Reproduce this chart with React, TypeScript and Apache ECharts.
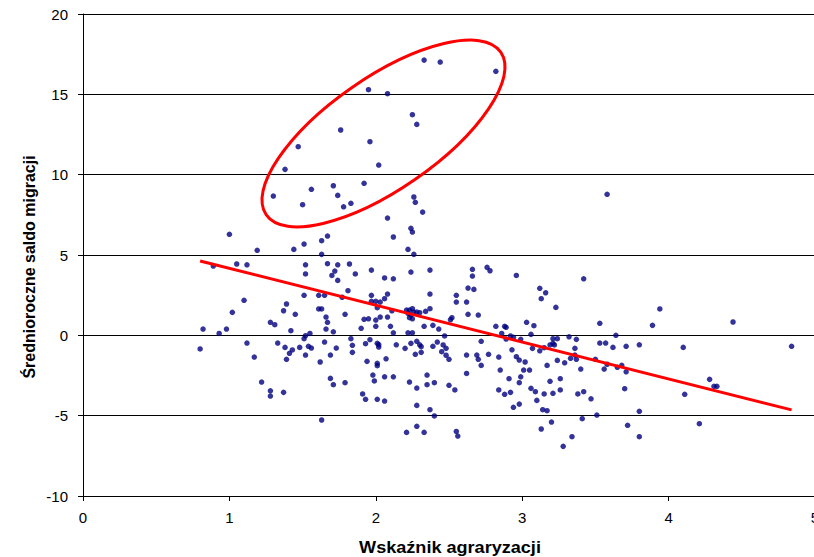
import React, { useEffect, useRef } from "react";
import * as echarts from "echarts";

// [Wskaźnik agraryzacji, Średnioroczne saldo migracji]
const punkty: [number, number][] = [
  [1.47, 11.74], [1.38, 10.33], [1.56, 9.09], [1.30, 8.67], [1.50, 8.13],
  [2.33, 17.13], [2.44, 17.01], [2.82, 16.43], [1.95, 15.29], [2.08, 15.04],
  [2.25, 13.73], [2.28, 13.13], [1.76, 12.78], [1.96, 12.05], [2.02, 10.60],
  [1.71, 9.31], [1.92, 9.46], [1.74, 8.71], [1.78, 8.00], [1.83, 8.22],
  [2.26, 8.61], [2.27, 8.28], [2.32, 7.67], [2.08, 7.30],
  [1.00, 6.29], [1.19, 5.29], [1.44, 5.35], [1.51, 5.68], [1.63, 5.89],
  [1.67, 6.18], [1.63, 5.04], [0.89, 4.31], [1.05, 4.44], [1.12, 4.39],
  [1.52, 4.39], [1.52, 3.82], [1.67, 4.46], [1.10, 2.18], [1.02, 1.43],
  [1.39, 1.95], [1.37, 1.53], [1.45, 1.31], [1.51, 2.49], [1.61, 2.49],
  [1.65, 2.49], [1.61, 1.64], [1.63, 1.64], [1.66, 1.14],
  [0.82, 0.39], [0.93, 0.12], [0.98, 0.39], [1.28, 0.81], [1.31, 0.66],
  [1.42, 0.29], [1.67, 0.81], [1.66, 0.39], [1.55, 0.12], [1.52, -0.02],
  [1.51, -0.21], [0.80, -0.85], [1.12, -0.48], [1.33, -0.48], [1.38, -0.75],
  [1.48, -0.75], [1.43, -0.91], [1.41, -1.12], [1.54, -0.68], [1.56, -0.79],
  [1.65, -0.42], [1.17, -1.35], [1.39, -1.49], [1.52, -1.23], [1.69, -1.23],
  [1.62, -1.66], [1.22, -2.91], [1.28, -3.45], [1.28, -3.78], [1.37, -3.55],
  [1.69, -2.68], [1.63, -5.27],
  [2.24, 6.66], [2.25, 6.43], [2.12, 6.12], [2.22, 5.35], [2.26, 5.04],
  [1.74, 4.39], [1.82, 4.44], [1.72, 4.00], [1.70, 3.73], [1.74, 3.42],
  [1.86, 3.82], [1.97, 4.06], [2.06, 3.57], [2.12, 3.52], [2.24, 3.94],
  [2.37, 4.06], [2.66, 4.11], [2.66, 3.69], [1.81, 2.78], [1.77, 2.37],
  [1.97, 2.49], [2.08, 2.57], [2.06, 2.28], [1.97, 2.12], [2.00, 2.12],
  [2.03, 2.07], [2.01, 1.72], [2.37, 2.57], [2.63, 2.94], [2.67, 2.86],
  [2.55, 2.49], [2.55, 2.07], [2.62, 2.07], [1.79, 1.31], [1.92, 1.00],
  [1.95, 1.03], [2.00, 0.95], [2.03, 1.14], [2.08, 1.14], [2.11, 1.53],
  [2.21, 1.57], [2.23, 1.57], [2.25, 1.66], [2.26, 1.45], [2.22, 1.37],
  [2.24, 1.26], [2.28, 1.45], [2.30, 1.41], [2.34, 1.49], [2.37, 1.66],
  [2.23, 1.10], [2.25, 1.03], [2.52, 1.10], [2.51, 0.97], [2.63, 1.31],
  [2.70, 1.26],
  [2.10, 0.56], [2.00, 0.56], [1.90, 0.44], [1.71, 0.22], [2.12, 0.16],
  [2.22, 0.16], [2.25, 0.16], [2.33, 0.56], [2.39, 0.62], [2.43, 0.39],
  [2.47, -0.04], [1.83, -0.21], [1.84, -0.62], [1.73, -0.79], [1.84, -1.06],
  [1.93, -0.52], [1.96, -0.27], [2.01, -0.50], [2.02, -0.58], [2.02, -0.73],
  [2.14, -0.59], [2.20, -0.81], [2.24, -0.50], [2.28, -0.37], [2.30, -0.59],
  [2.31, -0.71], [2.27, -1.18], [2.31, -1.06], [2.39, -0.68], [2.42, -0.42],
  [2.46, -0.60], [2.48, -0.81], [2.45, -1.02], [2.48, -1.24], [2.50, -1.49],
  [2.62, -1.23], [2.69, -1.23], [2.70, -1.49], [1.94, -1.62], [2.01, -1.74],
  [2.01, -1.89], [2.07, -1.46], [1.71, -3.07], [1.79, -2.95], [1.98, -2.47],
  [1.99, -2.84], [2.06, -2.58], [2.12, -2.58], [2.23, -2.91], [2.28, -3.28],
  [2.35, -2.47], [2.35, -3.07], [2.40, -2.95], [2.50, -3.11], [2.54, -3.40],
  [2.62, -2.37], [1.91, -3.65], [1.93, -3.98], [2.01, -3.98], [2.06, -4.09],
  [2.28, -4.36], [2.37, -4.63], [2.40, -5.02], [2.21, -6.04], [2.28, -5.66],
  [2.33, -6.04], [2.55, -5.98], [2.56, -6.27],
  [3.58, 8.78], [2.76, 4.23], [2.78, 4.02], [2.96, 3.73], [3.42, 3.52],
  [3.12, 2.93], [3.16, 2.65], [3.13, 2.28], [3.23, 1.74],
  [2.82, 0.56], [2.88, 0.56], [2.89, 0.50], [3.03, 0.81], [3.08, 0.60],
  [3.53, 0.75], [2.86, 0.12], [3.06, 0.06], [2.92, -0.04], [2.94, -0.12],
  [2.89, -0.23], [2.99, -0.25], [3.21, -0.21], [3.24, -0.21], [3.32, -0.09],
  [3.37, -0.25], [3.64, 0.00], [2.72, -0.37], [2.77, -1.18], [2.72, -1.87],
  [2.93, -0.90], [3.07, -0.81], [3.12, -0.96], [3.15, -0.77], [3.19, -0.60],
  [3.21, -0.50], [3.22, -0.60], [3.29, -1.71], [3.36, -0.81], [3.33, -1.43],
  [3.37, -1.49], [3.36, -1.23], [3.53, -0.48], [3.57, -0.48], [3.62, -0.75],
  [2.84, -1.35], [2.96, -1.33], [2.98, -1.54], [3.02, -1.66], [3.17, -1.87],
  [3.24, -1.56], [2.85, -2.16], [3.01, -2.16], [3.05, -2.16], [3.40, -2.10],
  [3.50, -1.49], [3.56, -2.10], [3.58, -1.80], [3.65, -1.99], [2.91, -2.70],
  [2.99, -2.58], [2.98, -2.95], [3.19, -2.86], [3.26, -2.70], [2.84, -3.40],
  [2.88, -3.67], [2.92, -3.55], [3.06, -3.30], [3.09, -3.51], [3.15, -3.65],
  [3.21, -3.61], [3.26, -3.40], [3.38, -3.65], [3.42, -3.51], [3.47, -3.95],
  [3.10, -4.05], [2.94, -4.48], [2.98, -4.28], [3.14, -4.63], [3.17, -4.69],
  [3.41, -5.19], [3.51, -4.96], [3.20, -5.40], [3.13, -5.83], [3.34, -6.31],
  [3.28, -6.91],
  [3.94, 1.64], [3.89, 0.62], [4.44, 0.83], [3.71, -0.68], [3.80, -0.59],
  [4.10, -0.75], [4.84, -0.68], [3.68, -1.87], [3.71, -2.27], [3.70, -3.32],
  [4.28, -2.74], [4.31, -3.17], [4.33, -3.17], [4.11, -3.67], [3.80, -4.73],
  [3.72, -5.60], [4.21, -5.50], [3.80, -6.31],
];

// linia trendu (punkty końcowe)
const trendX = [0.8, 4.84];
const trendY = [4.63, -4.64];

const xMin = 0, xMax = 5, xStep = 1;
const yMin = -10, yMax = 20, yStep = 5;

const FONT = "'Liberation Sans', Arial, sans-serif";

export default function App() {
  const ref = useRef<HTMLDivElement>(null);
  useEffect(() => {
    if (!ref.current) return;
    const chart = echarts.init(ref.current, undefined, { renderer: "svg" });
    chart.setOption({
      animation: false,
      backgroundColor: "#ffffff",
      grid: {
        left: 83,
        top: 14,
        width: 732,
        height: 482,
        containLabel: false,
        outerBoundsMode: "none",
      },
      xAxis: {
        type: "value",
        min: xMin,
        max: xMax,
        interval: xStep,
        axisLine: { onZero: false, lineStyle: { color: "#000", width: 1 } },
        axisTick: { show: true, length: 5, lineStyle: { color: "#000" } },
        axisLabel: { fontFamily: FONT, fontSize: 15, color: "#000", margin: 14, showMaxLabel: true },
        splitLine: { show: false },
      },
      yAxis: {
        type: "value",
        min: yMin,
        max: yMax,
        interval: yStep,
        axisLine: { show: true, onZero: false, lineStyle: { color: "#000", width: 1 } },
        axisTick: { show: true, length: 5, lineStyle: { color: "#000" } },
        axisLabel: { fontFamily: FONT, fontSize: 15, color: "#000", margin: 15 },
        splitLine: { show: true, lineStyle: { color: "#000", width: 1 } },
      },
      graphic: [
        {
          type: "text",
          x: 29,
          y: 267,
          rotation: Math.PI / 2,
          style: {
            text: "Średnioroczne saldo migracji",
            font: `bold 16px ${FONT}`,
            fill: "#000",
            align: "center",
            verticalAlign: "middle",
          },
          z: 10,
        },
        {
          type: "text",
          x: 450,
          y: 548,
          scaleX: 1.13,
          style: {
            text: "Wskaźnik agraryzacji",
            font: `bold 16px ${FONT}`,
            fill: "#000",
            align: "center",
            verticalAlign: "middle",
          },
          z: 10,
        },
        {
          type: "ellipse",
          x: 383.5,
          y: 133.5,
          rotation: 0.607,
          shape: { cx: 0, cy: 0, rx: 142.8, ry: 55.8 },
          style: { fill: "none", stroke: "#ff0000", lineWidth: 3 },
          z: 10,
        },
      ],
      series: [
        {
          type: "scatter",
          data: punkty,
          symbol: "circle",
          symbolSize: 5.5,
          itemStyle: { color: "#000080" },
          z: 3,
        },
        {
          type: "line",
          data: trendX.map((x, i) => [x, trendY[i]]),
          symbol: "none",
          lineStyle: { color: "#ff0000", width: 3 },
          z: 4,
        },
      ],
    });
    return () => chart.dispose();
  }, []);
  return (
    <div
      ref={ref}
      style={{ position: "fixed", left: 0, top: 0, width: 814, height: 557, background: "#fff" }}
    />
  );
}
